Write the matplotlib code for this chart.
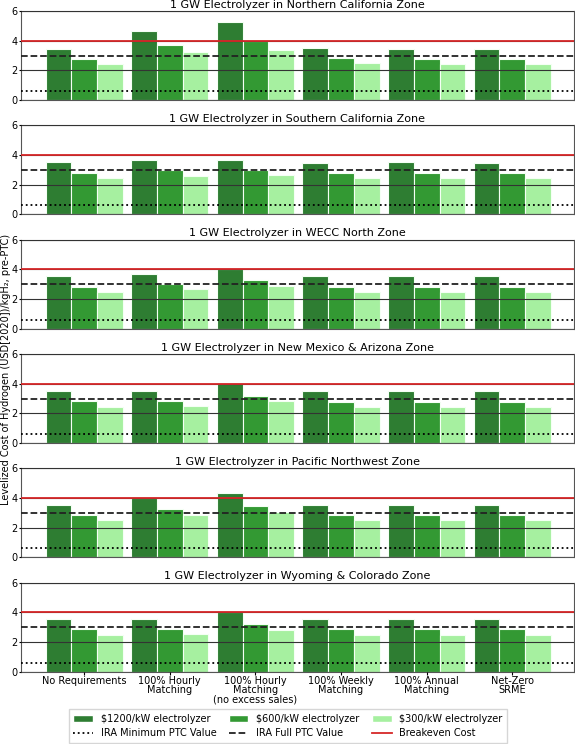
import matplotlib.pyplot as plt
import numpy as np
from matplotlib.patches import Patch
from matplotlib.lines import Line2D

# Data
categories = ['No Requirements', '100% Hourly\nMatching', '100% Hourly\nMatching\n(no excess sales)',
              '100% Weekly\nMatching', '100% Annual\nMatching', 'Net-Zero\nSRME']
zones = ['Northern California', 'Southern California', 'WECC North',
         'New Mexico & Arizona', 'Pacific Northwest', 'Wyoming & Colorado']

lcoh_1200 = [
    [3.46, 4.64, 5.27, 3.51, 3.46, 3.46],
    [3.50, 3.66, 3.68, 3.48, 3.53, 3.48],
    [3.52, 3.72, 4.02, 3.53, 3.53, 3.53],
    [3.48, 3.53, 4.04, 3.51, 3.51, 3.51],
    [3.53, 4.02, 4.31, 3.53, 3.53, 3.53],
    [3.52, 3.57, 4.00, 3.52, 3.52, 3.52],
]
lcoh_600 = [
    [2.78, 3.71, 4.00, 2.83, 2.78, 2.78],
    [2.82, 2.98, 3.00, 2.76, 2.81, 2.76],
    [2.84, 3.02, 3.27, 2.83, 2.83, 2.83],
    [2.81, 2.83, 3.19, 2.79, 2.79, 2.79],
    [2.88, 3.24, 3.48, 2.83, 2.83, 2.83],
    [2.84, 2.86, 3.18, 2.84, 2.84, 2.84],
]
lcoh_300 = [
    [2.44, 3.21, 3.37, 2.47, 2.44, 2.44],
    [2.44, 2.60, 2.66, 2.43, 2.47, 2.43],
    [2.50, 2.66, 2.91, 2.49, 2.49, 2.49],
    [2.45, 2.49, 2.83, 2.45, 2.45, 2.45],
    [2.52, 2.88, 3.03, 2.49, 2.49, 2.49],
    [2.50, 2.52, 2.80, 2.50, 2.50, 2.50],
]
series_labels = ['$1200/kW electrolyzer', '$600/kW electrolyzer', '$300/kW electrolyzer']
series_colors = ['#2e7d32', '#339933', '#a6f0a0']

min_ptc = 0.6
full_ptc = 3.0
breakeven = 4.0

fig = plt.figure(figsize=(5.75, 7.44), dpi=100)
W, H = 575, 744
x = np.arange(len(categories))
width = 0.3

for i, zone in enumerate(zones):
    top_px = 11.1 + i * 114.3
    bot_px = top_px + 89
    ax = fig.add_axes([20.7 / W, 1 - bot_px / H, (574 - 20.7) / W, (bot_px - top_px) / H])
    for j, vals in enumerate([lcoh_1200[i], lcoh_600[i], lcoh_300[i]]):
        ax.bar(x + (j - 1) * width, vals, width, color=series_colors[j],
               edgecolor='#f4fff4', linewidth=0.8, zorder=2)
    ax.axhline(min_ptc, color='black', linestyle=':', linewidth=1.3, zorder=3)
    ax.axhline(full_ptc, color='#222222', linestyle='--', linewidth=1.3, zorder=3)
    ax.axhline(breakeven, color='#d62728', linewidth=1.3, zorder=3)
    ax.set_ylim(0, 6)
    ax.set_xlim(-0.74, 5.72)
    ax.set_yticks([0, 2, 4, 6])
    ax.tick_params(axis='y', labelsize=7, length=1.5, pad=0.8)
    ax.grid(axis='y', color='#333333', linewidth=0.8, zorder=2.5)
    ax.set_axisbelow(False)
    for s in ax.spines.values():
        s.set_color('#555555')
        s.set_linewidth(0.8)
    ax.set_title(f'1 GW Electrolyzer in {zone} Zone', fontsize=8, pad=2.5)
    ax.set_xticks(x)
    if i == len(zones) - 1:
        ax.set_xticklabels(categories, fontsize=7, linespacing=0.95)
        ax.tick_params(axis='x', length=2, pad=1)
    else:
        ax.set_xticklabels([])
        ax.tick_params(axis='x', length=0)

fig.text(5.6 / W, 0.503, 'Levelized Cost of Hydrogen (USD[2020])/kgH\u2082, pre-PTC)',
         rotation=90, va='center', ha='center', fontsize=7)

handles = [
    Patch(facecolor=series_colors[0], edgecolor='white', label=series_labels[0]),
    Line2D([], [], color='black', linestyle=':', linewidth=1.3, label='IRA Minimum PTC Value'),
    Patch(facecolor=series_colors[1], edgecolor='white', label=series_labels[1]),
    Line2D([], [], color='#222222', linestyle='--', linewidth=1.3, label='IRA Full PTC Value'),
    Patch(facecolor=series_colors[2], edgecolor='white', label=series_labels[2]),
    Line2D([], [], color='#d62728', linewidth=1.3, label='Breakeven Cost'),
]
fig.legend(handles=handles, ncol=3, loc='lower center', bbox_to_anchor=(288 / W, 1 / H),
           borderaxespad=0, fontsize=7, frameon=True, fancybox=False, edgecolor='#cccccc',
           handlelength=2, columnspacing=1.3, borderpad=0.5, labelspacing=0.4)

plt.savefig('out.png', dpi=100)
